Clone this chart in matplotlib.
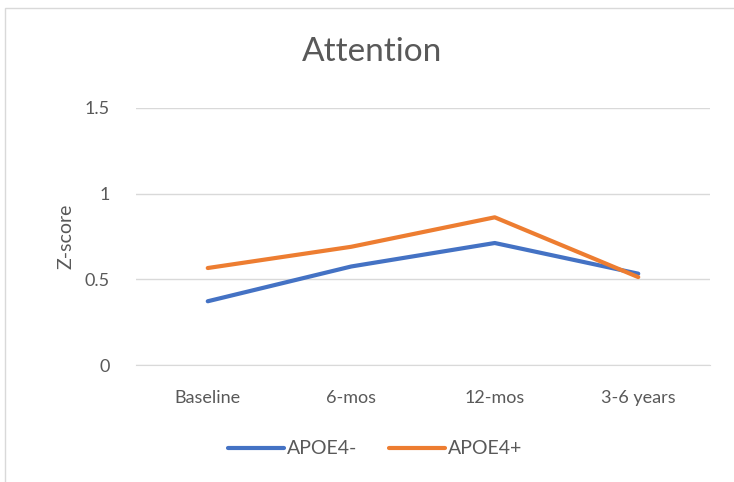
import matplotlib.pyplot as plt
from matplotlib.patches import Rectangle

categories = ['Baseline', '6-mos', '12-mos', '3-6 years']
apoe4_neg = [0.372, 0.575, 0.712, 0.533]
apoe4_pos = [0.566, 0.69, 0.862, 0.513]
yticks = [0, 0.5, 1, 1.5]
ytick_labels = ['0', '0.5', '1', '1.5']

plt.rcParams['font.family'] = ['Lato', 'DejaVu Sans']
txt = '#595959'

fig = plt.figure(figsize=(7.34, 4.82), dpi=100)
fig.patches.append(Rectangle((5 / 734, -0.1), 1.2, 1 - 8 / 482 + 0.1, transform=fig.transFigure,
                             fill=False, edgecolor='#d9d9d9', linewidth=1))
ax = fig.add_axes([136 / 734, 1 - 365 / 482, 574 / 734, 257 / 482])

x = range(len(categories))
ax.plot(x, apoe4_neg, color='#4472C4', lw=3, solid_capstyle='round', label='APOE4-')
ax.plot(x, apoe4_pos, color='#ED7D31', lw=3, solid_capstyle='round', label='APOE4+')

ax.set_xlim(-0.5, len(categories) - 0.5)
ax.set_ylim(0, 1.5)
ax.set_yticks(yticks)
ax.set_yticklabels(ytick_labels)
ax.set_xticks(list(x))
ax.set_xticklabels(categories)
ax.grid(axis='y', color='#d9d9d9', lw=1)
ax.set_axisbelow(True)
for s in ax.spines.values():
    s.set_visible(False)
ax.spines['bottom'].set_visible(True)
ax.spines['bottom'].set_color('#d9d9d9')
ax.tick_params(length=0, labelsize=13, colors=txt, pad=18)
ax.tick_params(axis='y', pad=19)

ax.set_ylabel('Z-score', fontsize=14, color=txt, labelpad=7)
fig.text(372 / 734, 1 - 52 / 482, 'Attention', ha='center', va='center', fontsize=24, color=txt)

fig.legend(loc='center', bbox_to_anchor=(375 / 734, 1 - 449 / 482), ncol=2, frameon=False,
           fontsize=14, labelcolor=txt, handlelength=2.9, handletextpad=0.15, columnspacing=1.6)

fig.savefig('out.png', dpi=100)
